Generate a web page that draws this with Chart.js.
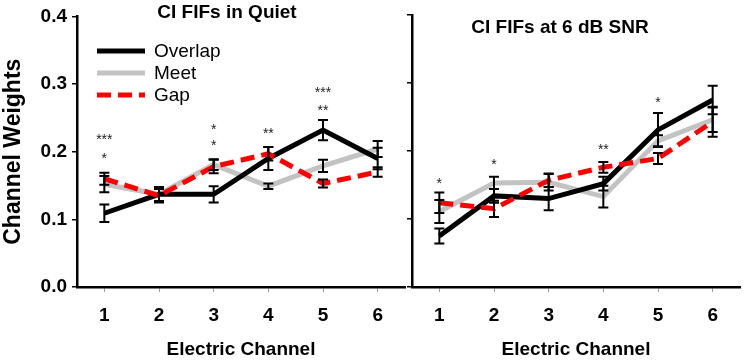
<!DOCTYPE html>
<html>
<head>
<meta charset="utf-8">
<script src="https://cdn.jsdelivr.net/npm/chart.js@4.4.1/dist/chart.umd.min.js"></script>
<style>
html, body { margin: 0; padding: 0; background: #fff; }
#wrap { position: relative; width: 745px; height: 361px; overflow: hidden; }
#quietChart { position: absolute; left: 0; top: 0; }
#snrChart { position: absolute; left: 405px; top: 0; }
</style>
</head>
<body>
<div id="wrap">
  <canvas id="quietChart" width="410" height="361"></canvas>
  <canvas id="snrChart" width="340" height="361"></canvas>
</div>
<script>
// ================= DATA =================
const channels = ["1", "2", "3", "4", "5", "6"];
const yTicks = [0, 0.1, 0.2, 0.3, 0.4];

// CI FIFs in Quiet
const quietOverlap    = [0.109, 0.137, 0.137, 0.190, 0.232, 0.190];
const quietOverlapErr = [0.013, 0.011, 0.012, 0.017, 0.015, 0.016];
const quietMeet       = [0.152, 0.137, 0.181, 0.149, 0.179, 0.204];
const quietMeetErr    = [0.012, 0.010, 0.008, 0.004, 0.009, 0.012];
const quietGap        = [0.160, 0.135, 0.178, 0.197, 0.153, 0.170];
const quietGapErr     = [0.009, 0.010, 0.010, 0.010, 0.006, 0.007];

// significance marks (quiet)
const quietStarText = ["***", "*", "*", "*", "**", "***", "**"];
const quietStarCh   = ["1", "1", "3", "3", "4", "5", "5"];
const quietStarVal  = [0.222, 0.194, 0.237, 0.212, 0.231, 0.291, 0.264];

// CI FIFs at 6 dB SNR
const snrOverlap    = [0.075, 0.134, 0.130, 0.152, 0.231, 0.275];
const snrOverlapErr = [0.011, 0.010, 0.017, 0.010, 0.025, 0.021];
const snrMeet       = [0.111, 0.153, 0.154, 0.133, 0.215, 0.246];
const snrMeetErr    = [0.017, 0.009, 0.012, 0.016, 0.008, 0.018];
const snrGap        = [0.124, 0.115, 0.157, 0.176, 0.189, 0.243];
const snrGapErr     = [0.015, 0.012, 0.010, 0.008, 0.008, 0.022];

// significance marks (snr)
const snrStarText = ["*", "*", "**", "*"];
const snrStarCh   = ["1", "2", "4", "5"];
const snrStarVal  = [0.156, 0.183, 0.205, 0.275];

const FONT = "'Liberation Sans', Arial, Helvetica, sans-serif";
const GRAY = "#c3c3c3";

// ================= DECORATION PLUGIN =================
// error bars, asterisks, panel title and (optional) legend
function makeDecor(cfg) {
    return {
        id: "decor",
        afterDatasetsDraw(chart) {
            const ctx = chart.ctx;
            const xs = chart.scales.x, ys = chart.scales.y, area = chart.chartArea;
            ctx.save();

            // error bars
            ctx.strokeStyle = "#000";
            ctx.lineWidth = 2;
            cfg.errs.forEach((errs, di) => {
                const vals = chart.data.datasets[di].data;
                errs.forEach((err, i) => {
                    const px = xs.getPixelForValue(i);
                    const top = ys.getPixelForValue(vals[i] + err);
                    const bot = ys.getPixelForValue(vals[i] - err);
                    ctx.beginPath();
                    ctx.moveTo(px, top); ctx.lineTo(px, bot);
                    ctx.moveTo(px - 5, top); ctx.lineTo(px + 5, top);
                    ctx.moveTo(px - 5, bot); ctx.lineTo(px + 5, bot);
                    ctx.stroke();
                });
            });

            // asterisks
            ctx.fillStyle = "#222";
            ctx.font = "14px " + FONT;
            ctx.textAlign = "center";
            ctx.textBaseline = "middle";
            cfg.starText.forEach((t, i) => {
                const px = xs.getPixelForValue(channels.indexOf(cfg.starCh[i]));
                const py = ys.getPixelForValue(cfg.starVal[i]);
                ctx.fillText(t, px, py + 3);
            });

            // panel title
            ctx.fillStyle = "#000";
            ctx.font = "bold 19px " + FONT;
            ctx.fillText(cfg.title, area.left + cfg.titleDx, cfg.titleY);

            // legend
            if (cfg.legend) {
                ctx.font = "19px " + FONT;
                ctx.textAlign = "left";
                const order = [0, 1, 2];
                order.forEach((di, row) => {
                    const ds = chart.data.datasets[di];
                    const ly = 51 + row * 22;
                    ctx.beginPath();
                    ctx.strokeStyle = ds.borderColor;
                    ctx.lineWidth = ds.borderWidth;
                    ctx.setLineDash(ds.borderDash || []);
                    ctx.moveTo(area.left + 20, ly);
                    ctx.lineTo(area.left + 68, ly);
                    ctx.stroke();
                    ctx.setLineDash([]);
                    ctx.fillStyle = "#000";
                    ctx.fillText(ds.label, area.left + 77, ly + 1);
                });
            }
            ctx.restore();
        }
    };
}

// ================= CHART BUILDER =================
function buildChart(canvasId, overlap, meet, gap, opts) {
    return new Chart(document.getElementById(canvasId), {
        type: "line",
        data: {
            labels: channels,
            datasets: [
                { label: "Overlap", data: overlap, borderColor: "#000", borderWidth: 5, order: 1 },
                { label: "Meet", data: meet, borderColor: GRAY, borderWidth: 5, order: 2 },
                { label: "Gap", data: gap, borderColor: "#ff0000", borderWidth: 5, borderDash: [14, 7], order: 0 }
            ]
        },
        options: {
            responsive: false,
            animation: false,
            devicePixelRatio: 1,
            layout: { padding: { top: 15, right: 5, bottom: 0, left: 0 } },
            elements: { point: { radius: 0, hoverRadius: 0 }, line: { tension: 0 } },
            plugins: { legend: { display: false }, tooltip: { enabled: false } },
            scales: {
                x: {
                    type: "category",
                    offset: true,
                    grid: { display: true, drawOnChartArea: false, offset: false, tickLength: 5, color: "#999" },
                    border: { display: true, color: "#000", width: 2.5 },
                    ticks: { color: "#000", font: { family: FONT, size: 19, weight: "bold" }, padding: 12, maxRotation: 0 },
                    title: { display: true, text: "Electric Channel", color: "#000",
                             font: { family: FONT, size: 19, weight: "bold" }, padding: { top: 0, bottom: 0 } },
                    afterFit: s => { s.height = 74; }
                },
                y: {
                    min: 0, max: 0.4,
                    afterBuildTicks: s => { s.ticks = yTicks.map(v => ({ value: v })); },
                    grid: { display: true, drawOnChartArea: false, tickLength: 5, color: "#000", lineWidth: 1.5 },
                    border: { display: true, color: "#000", width: 2.5 },
                    ticks: { display: opts.showY, color: "#000", padding: 5,
                             font: { family: FONT, size: 19, weight: "bold" },
                             callback: v => Number(v).toFixed(1) },
                    title: { display: opts.showY, text: "Channel Weights", color: "#000",
                             font: { family: FONT, size: 23, weight: "bold" }, padding: { top: 0, bottom: 0 } },
                    afterFit: s => { s.width = opts.yWidth; }
                }
            }
        },
        plugins: [makeDecor(opts.decor)]
    });
}

buildChart("quietChart", quietOverlap, quietMeet, quietGap, {
    showY: true, yWidth: 77,
    decor: {
        errs: [quietOverlapErr, quietMeetErr, quietGapErr],
        starText: quietStarText, starCh: quietStarCh, starVal: quietStarVal,
        title: "CI FIFs in Quiet", titleDx: 150, titleY: 13, legend: true
    }
});

buildChart("snrChart", snrOverlap, snrMeet, snrGap, {
    showY: false, yWidth: 7,
    decor: {
        errs: [snrOverlapErr, snrMeetErr, snrGapErr],
        starText: snrStarText, starCh: snrStarCh, starVal: snrStarVal,
        title: "CI FIFs at 6 dB SNR", titleDx: 148, titleY: 28, legend: false
    }
});
</script>
</body>
</html>
